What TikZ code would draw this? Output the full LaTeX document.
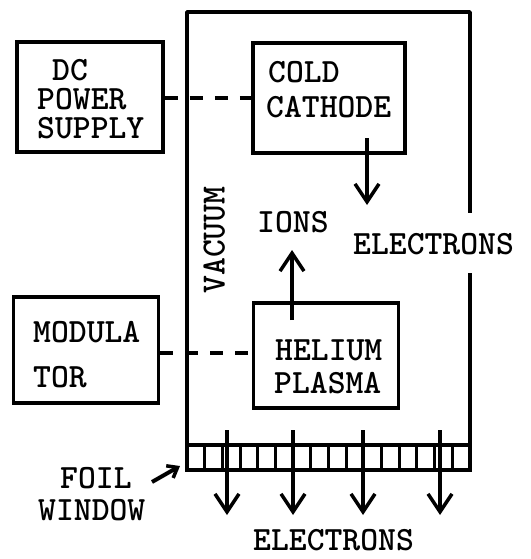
\documentclass[tikz,border=0pt]{standalone}
\usetikzlibrary{arrows.meta}
\begin{document}
\begin{tikzpicture}[x=1pt,y=-1pt,
  box/.style={draw,line width=3.5pt,inner sep=0pt},
  lbl/.style={font=\fontsize{34}{30}\selectfont\ttfamily\bfseries,inner sep=0pt,anchor=west,text height=21pt,text depth=0pt},
  lblm/.style={font=\fontsize{34}{29}\selectfont\ttfamily\bfseries,inner sep=0pt,anchor=north west,align=left},
  arr/.style={line width=3.5pt,-{Straight Barb[length=18pt,width=24pt,line width=3.5pt]}},
  conn/.style={line width=3.5pt,dash pattern=on 13pt off 12pt},
  wall/.style={line width=3.5pt}]
\useasboundingbox (0,0) rectangle (530,559);
% boxes
\node[box,minimum width=146pt,minimum height=110pt] (dc) at (90,97) {};
\node[box,minimum width=152pt,minimum height=110pt] (cold) at (329,98) {};
\node[box,minimum width=145pt,minimum height=106pt] (mod) at (86,350) {};
\node[box,minimum width=145pt,minimum height=105pt] (hel) at (326,355.5) {};
% labels in boxes
\node[lblm] (t1) at (37,59.5) {\hspace*{15pt}DC\\POWER\\SUPPLY};
\node[lbl] (t4) at (268,72) {COLD};
\node[lbl] (t5) at (266,107) {CATHODE};
\node[lbl] (t6) at (33,332) {MODULA};
\node[lbl] (t7) at (33,377) {TOR};
\node[lbl] (t8) at (275,350) {HELIUM};
\node[lbl] (t9) at (274,383) {PLASMA};
% vacuum chamber
\coordinate (vbl) at (187,445);
\coordinate (vtl) at (187,12);
\coordinate (vtr) at (470,12);
\coordinate (vgap1) at (470,213);
\coordinate (vgap2) at (470,273);
\coordinate (vbr) at (470,445);
\draw[wall,line join=round] (vbl) -- (vtl) -- (vtr) -- (vgap1);
\draw[wall] (vgap2) -- (vbr);
% foil window
\draw[wall] (187,445) rectangle (470,470);
\foreach \i in {1,...,15} \draw[line width=3pt] (187+\i*17.6875,445) -- ++(0,25);
% dashed connections
\draw[conn] (dc.east |- 0,98) -- (cold.west |- 0,98);
\draw[conn] (mod.east |- 0,353) -- (hel.west |- 0,353);
% arrows
\coordinate (ca1) at (367,138);
\coordinate (ca2) at (367,205);
\draw[arr] (ca1) -- (ca2);
\coordinate (ia1) at (292,320);
\coordinate (ia2) at (292,250);
\draw[arr] (ia1) -- (ia2);
\foreach \x in {227,293,363,440} {
  \coordinate (e\x a) at (\x,430);
  \coordinate (e\x b) at (\x,515);
  \draw[arr] (e\x a) -- (e\x b);
}
% other labels
\node[lbl] (ions) at (257,222) {IONS};
\node[lbl] (el1) at (353,244) {ELECTRONS};
\node[lbl,anchor=center,rotate=90] (vac) at (214,240) {VACUUM};
\node[lbl] (foil) at (60,478) {FOIL};
\node[lbl] (win) at (38,510) {WINDOW};
\node[lbl] (el2) at (253,540) {ELECTRONS};
\coordinate (fa) at (152,482);
\coordinate (fb) at (180,466);
\draw[line width=4pt,-{Straight Barb[length=9pt,width=14pt,line width=3.5pt]}] (fa) -- (fb);
\end{tikzpicture}
\end{document}
